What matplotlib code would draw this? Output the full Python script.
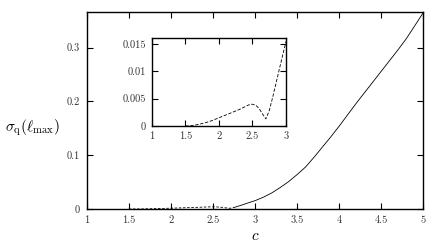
import matplotlib
matplotlib.use("Agg")
import matplotlib.pyplot as plt
import numpy as np

plt.rcParams['font.family'] = 'serif'
plt.rcParams['font.serif'] = ['cmr10', 'DejaVu Serif']
plt.rcParams['mathtext.fontset'] = 'cm'
plt.rcParams['axes.formatter.use_mathtext'] = True

# sigma_q(l_max)
c = [1.5, 1.6, 1.7, 1.8, 1.9, 2.0, 2.1, 2.2, 2.3, 2.4, 2.45, 2.5, 2.55, 2.6,
     2.65, 2.7, 2.75, 2.8, 2.85, 2.9, 2.95, 3.0, 3.1, 3.2, 3.3, 3.4, 3.5, 3.6,
     3.7, 3.8, 3.9, 4.0, 4.1, 4.2, 4.3, 4.4, 4.5, 4.6, 4.7, 4.8, 4.9, 5.0]
sigma = [0.0, 0.00008, 0.0003, 0.0006, 0.001, 0.0015, 0.002, 0.0025, 0.003,
         0.0036, 0.0039, 0.004, 0.0038, 0.0032, 0.0022, 0.0013, 0.0028, 0.0052,
         0.0078, 0.0104, 0.013, 0.0155, 0.022, 0.030, 0.040, 0.051, 0.064,
         0.078, 0.096, 0.115, 0.134, 0.154, 0.175, 0.196, 0.216, 0.236, 0.256,
         0.276, 0.296, 0.317, 0.341, 0.365]
c_split = 2.75

xticks = [1, 1.5, 2, 2.5, 3, 3.5, 4, 4.5, 5]
xlabels = ['1', '1.5', '2', '2.5', '3', '3.5', '4', '4.5', '5']
yticks = [0, 0.1, 0.2, 0.3]
ylabels = ['0', '0.1', '0.2', '0.3']
in_xticks = [1, 1.5, 2, 2.5, 3]
in_xlabels = ['1', '1.5', '2', '2.5', '3']
in_yticks = [0, 0.005, 0.01, 0.015]
in_ylabels = ['0', '0.005', '0.01', '0.015']

c = np.array(c)
sigma = np.array(sigma)
dash = c <= c_split
solid = c >= c_split

fig = plt.figure(figsize=(4.36, 2.5), dpi=100)
ax = fig.add_axes([0.199, 0.164, 0.772, 0.788])
ax.plot(c[dash], sigma[dash], color='k', lw=0.6, dashes=(3, 2))
ax.plot(c[solid], sigma[solid], color='k', lw=0.6)
ax.set_xlim(1, 5)
ax.set_ylim(0, 0.366)
ax.set_xticks(xticks)
ax.set_xticklabels(xlabels)
ax.set_yticks(yticks)
ax.set_yticklabels(ylabels)
ax.tick_params(direction='in', top=True, right=True, length=4, width=0.8,
               labelsize=7.5, pad=5, labelcolor='#333333')
for s in ax.spines.values():
    s.set_linewidth(1.0)
ax.set_xlabel(r'$c$', fontsize=11, labelpad=3)
ax.set_ylabel(r'$\sigma_{\rm q}(\ell_{\rm max})$', fontsize=11, rotation=0,
              labelpad=0)
ax.yaxis.set_label_coords(-0.16, 0.36)

# inset
ins = fig.add_axes([0.348, 0.496, 0.308, 0.351])
m = c <= 3.0
ins.plot(c[m], sigma[m], color='k', lw=0.6, dashes=(4, 2))
ins.set_xlim(1, 3)
ins.set_ylim(0, 0.0161)
ins.set_xticks(in_xticks)
ins.set_xticklabels(in_xlabels)
ins.set_yticks(in_yticks)
ins.set_yticklabels(in_ylabels)
ins.tick_params(direction='in', top=True, right=True, length=4, width=0.8,
                labelsize=7.5, pad=4, labelcolor='#333333')
for s in ins.spines.values():
    s.set_linewidth(1.0)

plt.savefig("out.png", dpi=100)
